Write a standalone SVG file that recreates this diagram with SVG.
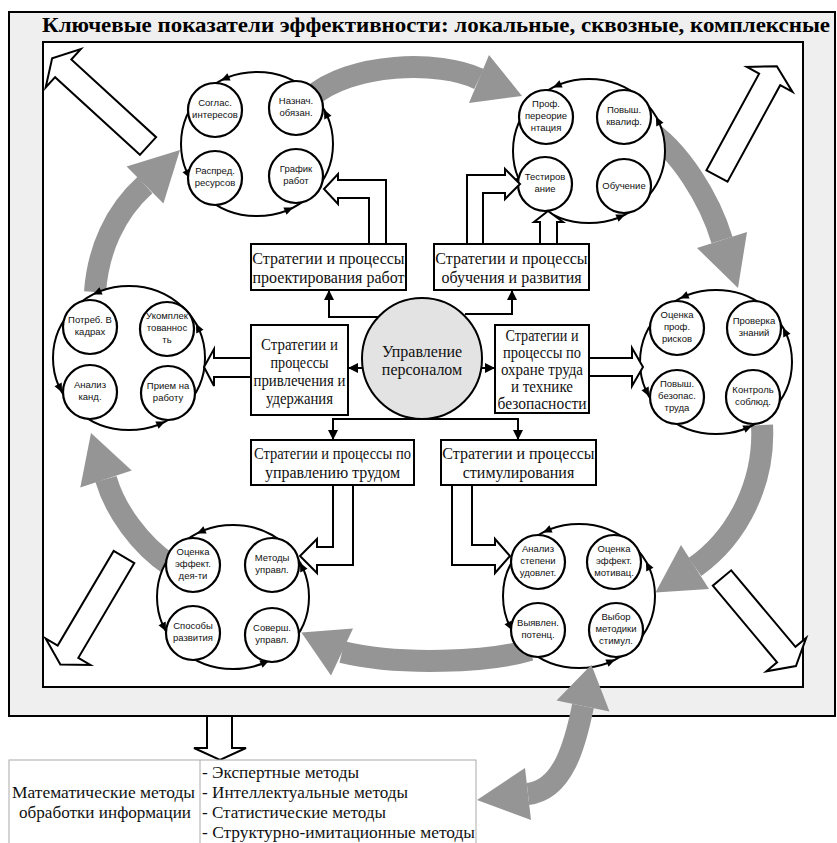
<svg xmlns="http://www.w3.org/2000/svg" xmlns:xlink="http://www.w3.org/1999/xlink" width="837" height="843" viewBox="0 0 837 843">
<style>
.frame{fill:#efefef;stroke:#000;stroke-width:2}
.inner{fill:#fff;stroke:#000;stroke-width:2}
.hollow{fill:#fff;stroke:#000;stroke-width:2;stroke-linejoin:miter}
.band{fill:none;stroke:#959595;stroke-width:22}
.head{fill:#959595}
.big{fill:#fff;stroke:#000;stroke-width:2}
.small{fill:#fff;stroke:#000;stroke-width:2.2}
.ct{font-family:"Liberation Sans",Arial,sans-serif;font-size:9.5px;text-anchor:middle;fill:#111}
.bx{fill:#fff;stroke:#000;stroke-width:2}
.bt{font-family:"Liberation Serif","Times New Roman",serif;font-size:16px;text-anchor:middle;fill:#111}
.tt{font-family:"Liberation Serif","Times New Roman",serif;font-size:17px;fill:#111}
.conn{fill:none;stroke:#000;stroke-width:2;marker-end:url(#arr)}
.tab{fill:#fff;stroke:#aaa;stroke-width:1}
</style>
<defs>
<polygon id="ah" points="4.5,0 -4.5,-4 -4.5,4" fill="#000"/>
<marker id="arr" markerUnits="userSpaceOnUse" markerWidth="10" markerHeight="10" refX="9" refY="5" orient="auto">
<path d="M0,0 L10,5 L0,10 Z" fill="#000"/>
</marker>
</defs>

<g id="frame">
<rect class="frame" x="9" y="12" width="826" height="704"/>
<text x="436" y="32" font-family="'Liberation Serif','Times New Roman',serif" font-weight="bold" font-size="22" text-anchor="middle" textLength="788" lengthAdjust="spacingAndGlyphs">Ключевые показатели эффективности: локальные, сквозные, комплексные</text>
<rect class="inner" x="43" y="42" width="760" height="645"/>
</g>

<g id="corner-arrows">
<path class="hollow" transform="translate(148,146) rotate(-137.5)" d="M0,-12 H115 V-26 L130,0 L115,26 V12 H0 Z"/>
<path class="hollow" transform="translate(717,176) rotate(-61.4)" d="M0,-12 H110 V-26 L125,0 L110,26 V12 H0 Z"/>
<path class="hollow" transform="translate(124,557) rotate(120.6)" d="M0,-12 H110 V-26 L125,0 L110,26 V12 H0 Z"/>
<path class="hollow" transform="translate(722,578) rotate(50)" d="M0,-12 H100 V-26 L115,0 L100,26 V12 H0 Z"/>
</g>

<g id="cycle-arrows">
<path class="band" d="M 310 98 C 350 62, 440 60, 479 79"/>
<polygon class="head" points="489,55 522,96 469,103"/>
<path class="band" d="M 645 128 C 680 150, 710 200, 722 240"/>
<polygon class="head" points="747,232 738,288 697,248"/>
<path class="band" d="M 762 425 C 765 480, 740 535, 695 567"/>
<polygon class="head" points="709,589 655.5,592.4 681,545"/>
<path class="band" d="M 530 650 C 490 662, 400 666, 342 652"/>
<polygon class="head" points="353,628.5 301.4,632.6 331,675.5"/>
<path class="band" d="M 170 565 C 140 545, 115 510, 106 479"/>
<polygon class="head" points="131.7,470.6 91,433 80.3,487.4"/>
<path class="band" d="M 95 292 C 98 250, 115 212, 145 185"/>
<polygon class="head" points="163.4,203.4 180,150 126.6,166.6"/>
</g>

<g id="cluster-tl">
<ellipse class="big" cx="257" cy="144" rx="76" ry="72"/>
<use xlink:href="#ah" transform="translate(224.9,78.7) rotate(156.2)"/>
<use xlink:href="#ah" transform="translate(188.1,174.4) rotate(63.8)"/>
<use xlink:href="#ah" transform="translate(289.1,209.3) rotate(-23.8)"/>
<use xlink:href="#ah" transform="translate(325.9,113.6) rotate(-116.2)"/>
<circle class="small" cx="215" cy="110" r="27"/>
<circle class="small" cx="296" cy="108" r="27"/>
<circle class="small" cx="215" cy="178" r="27"/>
<circle class="small" cx="296" cy="176" r="27"/>
<text class="ct" x="215" y="106">Соглас.</text><text class="ct" x="215" y="118">интересов</text>
<text class="ct" x="296" y="104">Назнач.</text><text class="ct" x="296" y="116">обязан.</text>
<text class="ct" x="215" y="174">Распред.</text><text class="ct" x="215" y="186">ресурсов</text>
<text class="ct" x="296" y="172">График</text><text class="ct" x="296" y="184">работ</text>
</g>

<g id="cluster-tr">
<ellipse class="big" cx="589" cy="151" rx="76" ry="72"/>
<use xlink:href="#ah" transform="translate(556.9,85.7) rotate(156.2)"/>
<use xlink:href="#ah" transform="translate(520.1,181.4) rotate(63.8)"/>
<use xlink:href="#ah" transform="translate(621.1,216.3) rotate(-23.8)"/>
<use xlink:href="#ah" transform="translate(657.9,120.6) rotate(-116.2)"/>
<circle class="small" cx="546" cy="117" r="27"/>
<circle class="small" cx="624" cy="117" r="27"/>
<circle class="small" cx="545" cy="184" r="27"/>
<circle class="small" cx="624" cy="186" r="27"/>
<text class="ct" x="546" y="107">Проф.</text><text class="ct" x="546" y="119">переорие</text><text class="ct" x="546" y="131">нтация</text>
<text class="ct" x="624" y="113">Повыш.</text><text class="ct" x="624" y="125">квалиф.</text>
<text class="ct" x="545" y="180">Тестиров</text><text class="ct" x="545" y="192">ание</text>
<text class="ct" x="624" y="189">Обучение</text>
</g>

<g id="cluster-l">
<ellipse class="big" cx="129" cy="358" rx="76" ry="72"/>
<use xlink:href="#ah" transform="translate(96.9,292.7) rotate(156.2)"/>
<use xlink:href="#ah" transform="translate(60.1,388.4) rotate(63.8)"/>
<use xlink:href="#ah" transform="translate(161.1,423.3) rotate(-23.8)"/>
<use xlink:href="#ah" transform="translate(197.9,327.6) rotate(-116.2)"/>
<circle class="small" cx="90" cy="327" r="27"/>
<circle class="small" cx="167" cy="329" r="27"/>
<circle class="small" cx="90" cy="392" r="27"/>
<circle class="small" cx="168" cy="393" r="27"/>
<text class="ct" x="90" y="323">Потреб. В</text><text class="ct" x="90" y="335">кадрах</text>
<text class="ct" x="167" y="319">Укомплек</text><text class="ct" x="167" y="331">тованнос</text><text class="ct" x="167" y="343">ть</text>
<text class="ct" x="90" y="388">Анализ</text><text class="ct" x="90" y="400">канд.</text>
<text class="ct" x="168" y="389">Прием на</text><text class="ct" x="168" y="401">работу</text>
</g>

<g id="cluster-r">
<ellipse class="big" cx="716" cy="362" rx="76" ry="72"/>
<use xlink:href="#ah" transform="translate(683.9,296.7) rotate(156.2)"/>
<use xlink:href="#ah" transform="translate(647.1,392.4) rotate(63.8)"/>
<use xlink:href="#ah" transform="translate(748.1,427.3) rotate(-23.8)"/>
<use xlink:href="#ah" transform="translate(784.9,331.6) rotate(-116.2)"/>
<circle class="small" cx="677" cy="328" r="27"/>
<circle class="small" cx="754" cy="328" r="27"/>
<circle class="small" cx="677" cy="397" r="27"/>
<circle class="small" cx="753" cy="397" r="27"/>
<text class="ct" x="677" y="318">Оценка</text><text class="ct" x="677" y="330">проф.</text><text class="ct" x="677" y="342">рисков</text>
<text class="ct" x="754" y="324">Проверка</text><text class="ct" x="754" y="336">знаний</text>
<text class="ct" x="677" y="387">Повыш.</text><text class="ct" x="677" y="399">безопас.</text><text class="ct" x="677" y="411">труда</text>
<text class="ct" x="753" y="393">Контроль</text><text class="ct" x="753" y="405">соблюд.</text>
</g>

<g id="cluster-bl">
<ellipse class="big" cx="233" cy="597" rx="76" ry="72"/>
<use xlink:href="#ah" transform="translate(200.9,531.7) rotate(156.2)"/>
<use xlink:href="#ah" transform="translate(164.1,627.4) rotate(63.8)"/>
<use xlink:href="#ah" transform="translate(265.1,662.3) rotate(-23.8)"/>
<use xlink:href="#ah" transform="translate(301.9,566.6) rotate(-116.2)"/>
<circle class="small" cx="193" cy="565" r="27"/>
<circle class="small" cx="272" cy="565" r="27"/>
<circle class="small" cx="193" cy="633" r="27"/>
<circle class="small" cx="272" cy="635" r="27"/>
<text class="ct" x="193" y="555">Оценка</text><text class="ct" x="193" y="567">эффект.</text><text class="ct" x="193" y="579">дея-ти</text>
<text class="ct" x="272" y="561">Методы</text><text class="ct" x="272" y="573">управл.</text>
<text class="ct" x="193" y="629">Способы</text><text class="ct" x="193" y="641">развития</text>
<text class="ct" x="272" y="631">Соверш.</text><text class="ct" x="272" y="643">управл.</text>
</g>

<g id="cluster-br">
<ellipse class="big" cx="579" cy="596" rx="76" ry="72"/>
<use xlink:href="#ah" transform="translate(546.9,530.7) rotate(156.2)"/>
<use xlink:href="#ah" transform="translate(510.1,626.4) rotate(63.8)"/>
<use xlink:href="#ah" transform="translate(611.1,661.3) rotate(-23.8)"/>
<use xlink:href="#ah" transform="translate(647.9,565.6) rotate(-116.2)"/>
<circle class="small" cx="538" cy="562" r="27"/>
<circle class="small" cx="614" cy="562" r="27"/>
<circle class="small" cx="538" cy="630" r="27"/>
<circle class="small" cx="616" cy="630" r="27"/>
<text class="ct" x="538" y="552">Анализ</text><text class="ct" x="538" y="564">степени</text><text class="ct" x="538" y="576">удовлет.</text>
<text class="ct" x="614" y="552">Оценка</text><text class="ct" x="614" y="564">эффект.</text><text class="ct" x="614" y="576">мотивац.</text>
<text class="ct" x="538" y="626">Выявлен.</text><text class="ct" x="538" y="638">потенц.</text>
<text class="ct" x="616" y="620">Выбор</text><text class="ct" x="616" y="632">методики</text><text class="ct" x="616" y="644">стимул.</text>
</g>

<g id="block-arrows">
<path class="hollow" d="M 369 244 V 198 H 338 V 204 L 324 189 L 338 174 V 180 H 386 V 244"/>
<path class="hollow" d="M 467 244 V 175 H 505 V 169 L 520 184 L 505 199 V 193 H 483 V 244"/>
<path class="hollow" d="M 540 244 V 222 H 534 L 548 211 L 563 222 H 557 V 244"/>
<path class="hollow" d="M 251 358 H 214 V 349 L 204 367 L 214 386 V 377 H 251"/>
<path class="hollow" d="M 589 358 H 632 V 348 L 643 367 L 632 386 V 376 H 589"/>
<path class="hollow" d="M 333 485 V 547 H 317 V 539 L 300 556 L 317 573 V 565 H 353 V 485"/>
<path class="hollow" d="M 472 485 V 545 H 495 V 539 L 510 556 L 495 573 V 565 H 452 V 485"/>
</g>

<g id="connectors">
<path class="conn" d="M 379 317 H 329 V 291"/>
<path class="conn" d="M 465 314 H 512 V 291"/>
<path class="conn" d="M 362 368 H 349"/>
<path class="conn" d="M 482 368 H 494"/>
<path class="conn" d="M 422 419 H 333 V 439"/>
<path class="conn" d="M 422 419 H 518 V 439"/>
</g>

<g id="box-design">
<rect class="bx" x="251" y="244" width="155" height="46"/>
<text class="bt" x="328.5" y="264">Стратегии и процессы</text>
<text class="bt" x="328.5" y="283">проектирования работ</text>
</g>
<g id="box-training">
<rect class="bx" x="434" y="244" width="155" height="46"/>
<text class="bt" x="511.5" y="264">Стратегии и процессы</text>
<text class="bt" x="511.5" y="283">обучения и развития</text>
</g>
<g id="box-attract">
<rect class="bx" x="251" y="325" width="97" height="90"/>
<text class="bt" x="299.5" y="350" textLength="77" lengthAdjust="spacingAndGlyphs">Стратегии и</text>
<text class="bt" x="299.5" y="368" textLength="58" lengthAdjust="spacingAndGlyphs">процессы</text>
<text class="bt" x="299.5" y="386" textLength="92" lengthAdjust="spacingAndGlyphs">привлечения и</text>
<text class="bt" x="299.5" y="404" textLength="67" lengthAdjust="spacingAndGlyphs">удержания</text>
</g>
<g id="box-safety">
<rect class="bx" x="495" y="325" width="94" height="88"/>
<text class="bt" x="542" y="341" textLength="73" lengthAdjust="spacingAndGlyphs">Стратегии и</text>
<text class="bt" x="542" y="358" textLength="78" lengthAdjust="spacingAndGlyphs">процессы по</text>
<text class="bt" x="542" y="375" textLength="82" lengthAdjust="spacingAndGlyphs">охране труда</text>
<text class="bt" x="542" y="392" textLength="62" lengthAdjust="spacingAndGlyphs">и технике</text>
<text class="bt" x="542" y="409" textLength="89" lengthAdjust="spacingAndGlyphs">безопасности</text>
</g>
<g id="box-labor">
<rect class="bx" x="251" y="440" width="163" height="45"/>
<text class="bt" x="332.5" y="459" textLength="157" lengthAdjust="spacingAndGlyphs">Стратегии и процессы по</text>
<text class="bt" x="332.5" y="478">управлению трудом</text>
</g>
<g id="box-stim">
<rect class="bx" x="441" y="440" width="155" height="45"/>
<text class="bt" x="518.5" y="459">Стратегии и процессы</text>
<text class="bt" x="518.5" y="478">стимулирования</text>
</g>

<g id="center">
<ellipse cx="422" cy="358.5" rx="60" ry="60.5" fill="#e3e3e3" stroke="#000" stroke-width="2"/>
<text class="bt" x="422" y="357" fill="#333">Управление</text>
<text class="bt" x="422" y="375" fill="#333">персоналом</text>
</g>

<g id="double-arrow">
<path class="band" d="M 583 706 C 575 745, 563 790, 528 794"/>
<polygon class="head" points="609.5,711.4 591.4,664.8 556.5,700.6"/>
<polygon class="head" points="531,820 477,800 525,768"/>
</g>

<g id="down-arrow">
<path class="hollow" d="M 207 717 V 748 H 194 L 220 760 L 246 748 H 232 V 717"/>
</g>

<g id="table">
<rect class="tab" x="9" y="760" width="467" height="90"/>
<line x1="200" y1="760" x2="200" y2="843" stroke="#aaa" stroke-width="1"/>
<text class="tt" x="103.5" y="798" text-anchor="middle" textLength="183" lengthAdjust="spacingAndGlyphs">Математические методы</text>
<text class="tt" x="105" y="818" text-anchor="middle" textLength="172" lengthAdjust="spacingAndGlyphs">обработки информации</text>
<text class="tt" x="202" y="778" textLength="157" lengthAdjust="spacingAndGlyphs">- Экспертные методы</text>
<text class="tt" x="202" y="798" textLength="206" lengthAdjust="spacingAndGlyphs">- Интеллектуальные методы</text>
<text class="tt" x="202" y="818" textLength="184" lengthAdjust="spacingAndGlyphs">- Статистические методы</text>
<text class="tt" x="202" y="838" textLength="273" lengthAdjust="spacingAndGlyphs">- Структурно-имитационные методы</text>
</g>
</svg>
